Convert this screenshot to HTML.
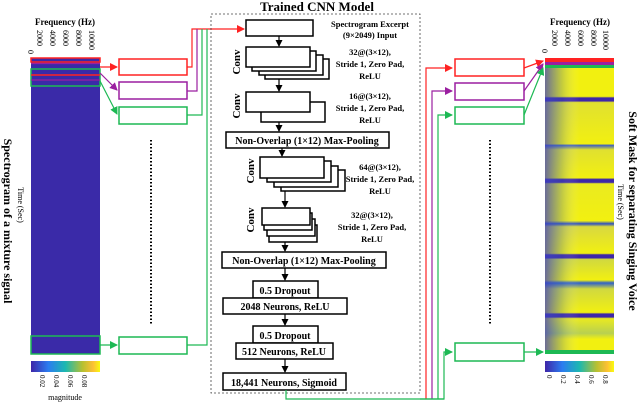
<!DOCTYPE html>
<html><head><meta charset="utf-8"><style>
html,body{margin:0;padding:0;background:#fff;}
svg{display:block;}
text{font-family:"Liberation Serif",serif;font-weight:bold;fill:#000;}
</style></head><body>
<svg width="640" height="403" viewBox="0 0 640 403" xmlns="http://www.w3.org/2000/svg">
<defs>
<marker id="ar" markerWidth="8" markerHeight="8" refX="7" refY="4" orient="auto" markerUnits="userSpaceOnUse"><path d="M0,0 L8,4 L0,8z" fill="#f22"/></marker>
<marker id="ap" markerWidth="8" markerHeight="8" refX="7" refY="4" orient="auto" markerUnits="userSpaceOnUse"><path d="M0,0 L8,4 L0,8z" fill="#9b1fa0"/></marker>
<marker id="ag" markerWidth="8" markerHeight="8" refX="7" refY="4" orient="auto" markerUnits="userSpaceOnUse"><path d="M0,0 L8,4 L0,8z" fill="#1db954"/></marker>
<marker id="ak" markerWidth="7" markerHeight="7" refX="6" refY="3.5" orient="auto" markerUnits="userSpaceOnUse"><path d="M0,0 L7,3.5 L0,7z" fill="#000"/></marker>
<linearGradient id="cb" x1="0" x2="1"><stop offset="0" stop-color="#3e26a8"/><stop offset="0.25" stop-color="#2c7cf0"/><stop offset="0.5" stop-color="#1cb8b0"/><stop offset="0.75" stop-color="#b8c030"/><stop offset="0.9" stop-color="#fcc034"/><stop offset="1" stop-color="#f9fb0e"/></linearGradient>
<linearGradient id="mk" x1="0" y1="0" x2="0" y2="1">
<stop offset="0" stop-color="#f2f010"/><stop offset="0.13" stop-color="#f2f010"/>
<stop offset="0.135" stop-color="#3e26a8"/><stop offset="0.145" stop-color="#3e26a8"/><stop offset="0.15" stop-color="#e0e030"/>
<stop offset="0.29" stop-color="#f2f010"/><stop offset="0.295" stop-color="#4060c0"/><stop offset="0.31" stop-color="#e0e030"/>
<stop offset="0.405" stop-color="#f2f010"/><stop offset="0.41" stop-color="#3e26a8"/><stop offset="0.42" stop-color="#3e26a8"/><stop offset="0.425" stop-color="#eaea20"/>
<stop offset="0.55" stop-color="#f2f010"/><stop offset="0.56" stop-color="#3050c0"/><stop offset="0.57" stop-color="#d8d840"/>
<stop offset="0.66" stop-color="#f2f010"/><stop offset="0.665" stop-color="#3e26a8"/><stop offset="0.675" stop-color="#3e26a8"/><stop offset="0.68" stop-color="#d0d840"/>
<stop offset="0.75" stop-color="#f2f010"/><stop offset="0.76" stop-color="#3060c8"/><stop offset="0.78" stop-color="#d0d840"/>
<stop offset="0.86" stop-color="#f2f010"/><stop offset="0.865" stop-color="#3e26a8"/><stop offset="0.875" stop-color="#3e26a8"/><stop offset="0.88" stop-color="#eaea20"/>
<stop offset="0.93" stop-color="#b8d050"/><stop offset="0.95" stop-color="#f2f010"/><stop offset="1" stop-color="#f2f010"/></linearGradient>
<linearGradient id="mkl" x1="0" x2="1"><stop offset="0" stop-color="#3e40c0" stop-opacity="0.75"/><stop offset="0.25" stop-color="#3e60c0" stop-opacity="0.25"/><stop offset="0.5" stop-color="#fff" stop-opacity="0"/></linearGradient>
</defs>

<text x="65" y="25" font-size="9" text-anchor="middle">Frequency (Hz)</text>
<g font-size="8">
<text transform="translate(28,50) rotate(90)" style="font-weight:normal">0</text>
<text transform="translate(37,30) rotate(90)" style="font-weight:normal">2000</text>
<text transform="translate(50,30) rotate(90)" style="font-weight:normal">4000</text>
<text transform="translate(63,30) rotate(90)" style="font-weight:normal">6000</text>
<text transform="translate(76,30) rotate(90)" style="font-weight:normal">8000</text>
<text transform="translate(89,30) rotate(90)" style="font-weight:normal">10000</text>
</g>
<rect x="31" y="58" width="69" height="296" fill="#3a2aa8"/>
<rect x="31" y="58" width="69" height="4" fill="none" stroke="#f22" stroke-width="1.5"/>
<line x1="31" y1="63.5" x2="100" y2="63.5" stroke="#9b1fa0" stroke-width="1.2"/>
<rect x="31" y="69" width="69" height="17" fill="none" stroke="#1db954" stroke-width="1.5"/>
<line x1="31" y1="75" x2="100" y2="75" stroke="#f22" stroke-width="1.5"/>
<line x1="31" y1="80" x2="100" y2="80" stroke="#9b1fa0" stroke-width="1.2"/>
<rect x="31" y="336" width="69" height="18" fill="none" stroke="#1db954" stroke-width="1.5"/>
<rect x="31" y="361" width="69" height="11" fill="url(#cb)"/>
<g font-size="7">
<text transform="translate(40,375) rotate(90)" style="font-weight:normal">0.02</text>
<text transform="translate(54,375) rotate(90)" style="font-weight:normal">0.04</text>
<text transform="translate(68,375) rotate(90)" style="font-weight:normal">0.06</text>
<text transform="translate(82,375) rotate(90)" style="font-weight:normal">0.08</text>
</g>
<text x="65" y="400" font-size="8" text-anchor="middle" style="font-weight:normal">magnitude</text>
<text transform="translate(4,221) rotate(90)" font-size="12" text-anchor="middle">Spectrogram of a mixture signal</text>
<text transform="translate(18,205) rotate(90)" font-size="8" text-anchor="middle" style="font-weight:normal">Time (Sec)</text>

<g fill="#fff" stroke-width="1.5">
<rect x="119" y="59" width="68" height="16" stroke="#f22"/>
<rect x="119" y="82" width="68" height="17" stroke="#9b1fa0"/>
<rect x="119" y="107" width="68" height="17" stroke="#1db954"/>
<rect x="119" y="337" width="68" height="17" stroke="#1db954"/>
</g>
<line x1="100" y1="67" x2="117" y2="67" stroke="#f22" stroke-width="1.2" marker-end="url(#ar)"/>
<line x1="100" y1="73" x2="117" y2="90" stroke="#9b1fa0" stroke-width="1.2" marker-end="url(#ap)"/>
<line x1="100" y1="81" x2="117" y2="114" stroke="#1db954" stroke-width="1.2" marker-end="url(#ag)"/>
<line x1="100" y1="345" x2="117" y2="345" stroke="#1db954" stroke-width="1.2" marker-end="url(#ag)"/>
<line x1="151" y1="140" x2="151" y2="325" stroke="#000" stroke-width="2" stroke-dasharray="1.5,2"/>
<polyline points="187,67 192,67 192,29 244,29" fill="none" stroke="#f22" stroke-width="1.2" marker-end="url(#ar)"/>
<polyline points="187,91 197,91 197,29" fill="none" stroke="#9b1fa0" stroke-width="1.2"/>
<polyline points="187,115 202,115 202,29" fill="none" stroke="#1db954" stroke-width="1.2"/>
<polyline points="187,345 207,345 207,29" fill="none" stroke="#1db954" stroke-width="1.2"/>

<rect x="211" y="14" width="209" height="379" fill="none" stroke="#444" stroke-width="0.8" stroke-dasharray="2,2"/>
<text x="317" y="11" font-size="13" text-anchor="middle">Trained CNN Model</text>

<g fill="#fff" stroke="#000" stroke-width="1.5">
<rect x="246" y="20" width="67" height="16"/>
<rect x="265" y="59" width="64" height="20"/>
<rect x="259" y="55" width="64" height="20"/>
<rect x="252" y="51" width="64" height="20"/>
<rect x="246" y="47" width="64" height="20"/>
<rect x="261" y="102" width="64" height="20"/>
<rect x="246" y="92" width="64" height="20"/>
<rect x="226" y="132" width="163" height="16"/>
<rect x="281" y="170" width="64" height="21"/>
<rect x="274" y="166" width="64" height="21"/>
<rect x="267" y="161" width="64" height="21"/>
<rect x="260" y="157" width="64" height="21"/>
<rect x="269" y="225" width="48" height="17"/>
<rect x="267" y="219" width="48" height="17"/>
<rect x="264" y="213" width="48" height="17"/>
<rect x="262" y="208" width="48" height="17"/>
<rect x="222" y="252" width="164" height="16"/>
<rect x="253" y="281" width="65" height="17"/>
<rect x="223" y="298" width="124" height="16"/>
<rect x="253" y="326" width="65" height="17"/>
<rect x="236" y="343" width="97" height="16"/>
<rect x="223" y="373" width="123" height="17"/>
</g>
<g stroke="#000" stroke-width="1.2">
<line x1="279" y1="36" x2="279" y2="46" marker-end="url(#ak)"/>
<line x1="279" y1="79" x2="279" y2="91" marker-end="url(#ak)"/>
<line x1="279" y1="122" x2="279" y2="131" marker-end="url(#ak)"/>
<line x1="282" y1="148" x2="282" y2="156" marker-end="url(#ak)"/>
<line x1="285" y1="191" x2="285" y2="207" marker-end="url(#ak)"/>
<line x1="285" y1="242" x2="285" y2="251" marker-end="url(#ak)"/>
<line x1="285" y1="268" x2="285" y2="280" marker-end="url(#ak)"/>
<line x1="285" y1="314" x2="285" y2="325" marker-end="url(#ak)"/>
<line x1="285" y1="359" x2="285" y2="372" marker-end="url(#ak)"/>
</g>
<g font-size="8.5">
<text x="370" y="27" text-anchor="middle">Spectrogram Excerpt</text>
<text x="370" y="38" text-anchor="middle">(9×2049) Input</text>
<text x="370" y="55" text-anchor="middle">32@(3×12),</text>
<text x="370" y="67" text-anchor="middle">Stride 1, Zero Pad,</text>
<text x="370" y="79" text-anchor="middle">ReLU</text>
<text x="370" y="99" text-anchor="middle">16@(3×12),</text>
<text x="370" y="111" text-anchor="middle">Stride 1, Zero Pad,</text>
<text x="370" y="123" text-anchor="middle">ReLU</text>
<text x="380" y="170" text-anchor="middle">64@(3×12),</text>
<text x="380" y="182" text-anchor="middle">Stride 1, Zero Pad,</text>
<text x="380" y="194" text-anchor="middle">ReLU</text>
<text x="372" y="218" text-anchor="middle">32@(3×12),</text>
<text x="372" y="230" text-anchor="middle">Stride 1, Zero Pad,</text>
<text x="372" y="242" text-anchor="middle">ReLU</text>
</g>
<g font-size="10" text-anchor="middle">
<text x="307" y="144">Non-Overlap (1×12) Max-Pooling</text>
<text x="304" y="264">Non-Overlap (1×12) Max-Pooling</text>
<text x="285" y="294">0.5 Dropout</text>
<text x="285" y="310">2048 Neurons, ReLU</text>
<text x="285" y="339">0.5 Dropout</text>
<text x="284" y="355">512 Neurons, ReLU</text>
<text x="284" y="386">18,441 Neurons, Sigmoid</text>
</g>
<g font-size="11" text-anchor="middle">
<text transform="translate(240,62) rotate(-90)">Conv</text>
<text transform="translate(240,106) rotate(-90)">Conv</text>
<text transform="translate(254,171) rotate(-90)">Conv</text>
<text transform="translate(254,220) rotate(-90)">Conv</text>
</g>

<polyline points="286,390 286,399 444,399 444,352 452,352" fill="none" stroke="#1db954" stroke-width="1.2" marker-end="url(#ag)"/>
<polyline points="426,399 426,68 452,68" fill="none" stroke="#f22" stroke-width="1.2" marker-end="url(#ar)"/>
<polyline points="432,399 432,91 452,91" fill="none" stroke="#9b1fa0" stroke-width="1.2" marker-end="url(#ap)"/>
<polyline points="438,399 438,115 452,115" fill="none" stroke="#1db954" stroke-width="1.2" marker-end="url(#ag)"/>
<line x1="420" y1="399" x2="444" y2="399" stroke="#1db954" stroke-width="1.2"/>
<g fill="none" stroke-width="1.5">
<rect x="455" y="59" width="69" height="17" stroke="#f22"/>
<rect x="455" y="83" width="69" height="17" stroke="#9b1fa0"/>
<rect x="455" y="107" width="69" height="17" stroke="#1db954"/>
<rect x="455" y="343" width="69" height="18" stroke="#1db954"/>
</g>
<line x1="524" y1="68" x2="543" y2="61" stroke="#f22" stroke-width="1.2" marker-end="url(#ar)"/>
<line x1="524" y1="91" x2="543" y2="64" stroke="#9b1fa0" stroke-width="1.2" marker-end="url(#ap)"/>
<line x1="524" y1="115" x2="543" y2="68" stroke="#1db954" stroke-width="1.2" marker-end="url(#ag)"/>
<line x1="524" y1="352" x2="543" y2="352" stroke="#1db954" stroke-width="1.2" marker-end="url(#ag)"/>
<line x1="490" y1="140" x2="490" y2="325" stroke="#000" stroke-width="2" stroke-dasharray="1.5,2"/>

<text x="580" y="25" font-size="9" text-anchor="middle">Frequency (Hz)</text>
<g font-size="8">
<text transform="translate(542,49) rotate(90)" style="font-weight:normal">0</text>
<text transform="translate(552,30) rotate(90)" style="font-weight:normal">2000</text>
<text transform="translate(565,30) rotate(90)" style="font-weight:normal">4000</text>
<text transform="translate(578,30) rotate(90)" style="font-weight:normal">6000</text>
<text transform="translate(591,30) rotate(90)" style="font-weight:normal">8000</text>
<text transform="translate(603,30) rotate(90)" style="font-weight:normal">10000</text>
</g>
<rect x="545" y="58" width="69" height="296" fill="url(#mk)"/>
<rect x="545" y="68" width="69" height="282" fill="url(#mkl)"/>
<rect x="545" y="58" width="69" height="4" fill="#f22"/>
<rect x="545" y="62" width="69" height="3" fill="#9b1fa0"/>
<rect x="545" y="65" width="69" height="3" fill="#1db954"/>
<rect x="545" y="350" width="69" height="4" fill="#1db954"/>
<rect x="545" y="361" width="69" height="11" fill="url(#cb)"/>
<g font-size="7">
<text transform="translate(547,375) rotate(90)" style="font-weight:normal">0</text>
<text transform="translate(561,375) rotate(90)" style="font-weight:normal">0.2</text>
<text transform="translate(575,375) rotate(90)" style="font-weight:normal">0.4</text>
<text transform="translate(589,375) rotate(90)" style="font-weight:normal">0.6</text>
<text transform="translate(603,375) rotate(90)" style="font-weight:normal">0.8</text>
</g>
<text transform="translate(629,211) rotate(90)" font-size="12" text-anchor="middle">Soft Mask for separating Singing Voice</text>
<text transform="translate(618,202) rotate(90)" font-size="8" text-anchor="middle" style="font-weight:normal">Time (Sec)</text>
</svg>
</body></html>
